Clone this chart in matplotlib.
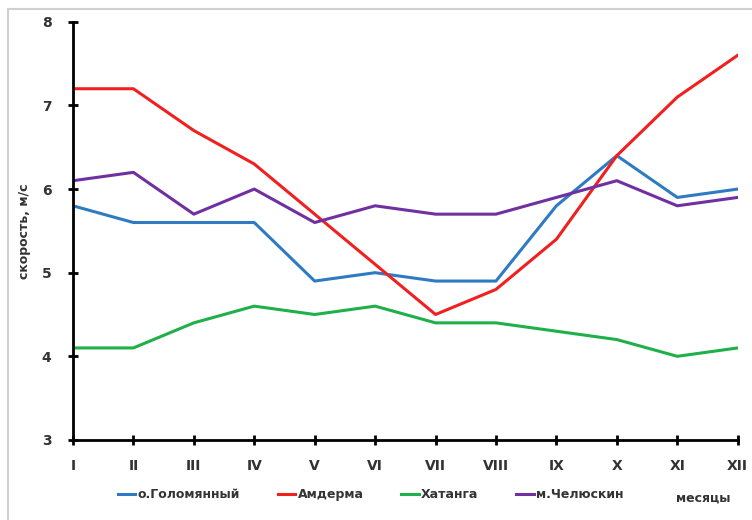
import matplotlib.pyplot as plt
from matplotlib.patches import Rectangle

months = ["I", "II", "III", "IV", "V", "VI", "VII", "VIII", "IX", "X", "XI", "XII"]
golomyanny = [5.8, 5.6, 5.6, 5.6, 4.9, 5.0, 4.9, 4.9, 5.8, 6.4, 5.9, 6.0]
amderma = [7.2, 7.2, 6.7, 6.3, 5.7, 5.1, 4.5, 4.8, 5.4, 6.4, 7.1, 7.6]
khatanga = [4.1, 4.1, 4.4, 4.6, 4.5, 4.6, 4.4, 4.4, 4.3, 4.2, 4.0, 4.1]
chelyuskin = [6.1, 6.2, 5.7, 6.0, 5.6, 5.8, 5.7, 5.7, 5.9, 6.1, 5.8, 5.9]

series = [
    ("о.Голомянный", golomyanny, "#2e7bc4"),
    ("Амдерма", amderma, "#f02020"),
    ("Хатанга", khatanga, "#1fb04a"),
    ("м.Челюскин", chelyuskin, "#7030a0"),
]

plt.rcParams['font.family'] = ['Liberation Sans Narrow', 'DejaVu Sans']
txt = "#333333"

fig = plt.figure(figsize=(7.52, 5.2), dpi=100)
fig.patches.append(Rectangle((0.011, -0.01), 1.0, 0.992, transform=fig.transFigure,
                             fill=False, edgecolor="#d0d0d0", linewidth=1.5))
ax = fig.add_axes([0.097, 0.154, 0.884, 0.804])

x = list(range(len(months)))
for name, vals, col in series:
    ax.plot(x, vals, color=col, linewidth=2.2, label=name)

ax.set_xlim(0, len(months) - 1)
ax.set_ylim(3, 8)
ax.set_yticks([3, 4, 5, 6, 7, 8])
ax.set_xticks(x)
ax.set_xticklabels(months)
for s in ["top", "right"]:
    ax.spines[s].set_visible(False)
for s in ["left", "bottom"]:
    ax.spines[s].set_linewidth(2)
    ax.spines[s].set_clip_on(False)
ax.tick_params(direction="inout", length=7, width=2, labelsize=10, labelcolor=txt)
ax.tick_params(axis="x", pad=10)
ax.tick_params(axis="y", pad=12)
for lab in ax.get_xticklabels() + ax.get_yticklabels():
    lab.set_fontweight("bold")

ax.set_ylabel("скорость, м/с", fontsize=9, fontweight="bold", color=txt, labelpad=8)

leg = fig.legend(loc="lower center", bbox_to_anchor=(0.493, 0.015), ncol=4, frameon=False,
                 handlelength=1.4, handletextpad=0.2, columnspacing=3.0,
                 prop={"weight": "bold", "size": 9})
for t in leg.get_texts():
    t.set_color(txt)
fig.text(0.935, 0.035, "месяцы", fontsize=9, fontweight="bold", color=txt, ha="center")

fig.savefig("out.png", dpi=100)
